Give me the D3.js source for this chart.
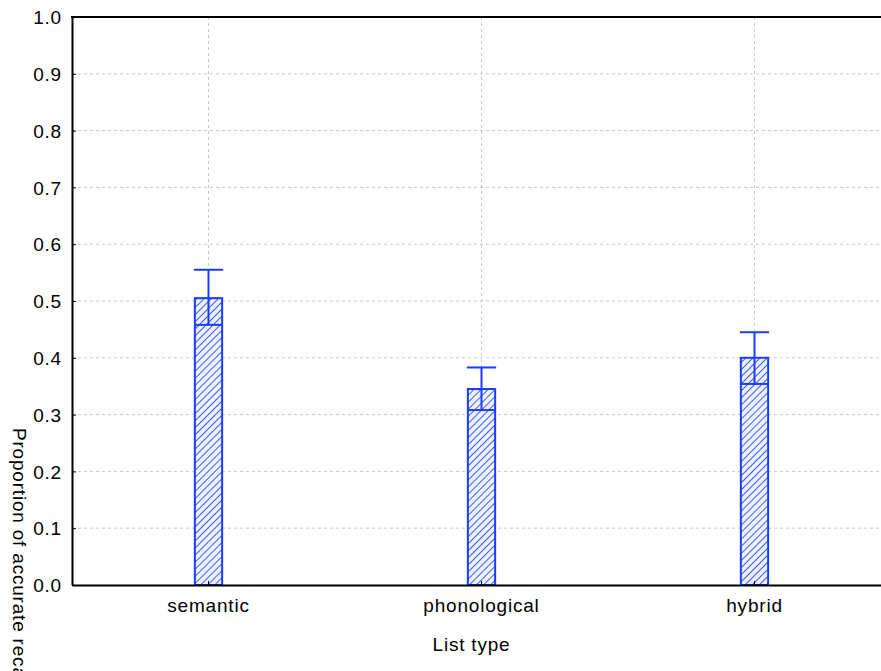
<!DOCTYPE html>
<html><head><meta charset="utf-8">
<script src="https://cdn.jsdelivr.net/npm/d3@7"></script>
<style>
html,body{margin:0;padding:0;background:#fff;overflow:hidden}
text{font-family:"Liberation Sans",Arial,sans-serif;font-size:19px;letter-spacing:0.8px;fill:#000}
</style></head><body>
<svg id="c" width="881" height="671"></svg>
<script>
const categories = ["semantic", "phonological", "hybrid"];
const means = [0.505, 0.345, 0.400];
const upperCI = [0.555, 0.383, 0.445];
const lowerCI = [0.458, 0.308, 0.354];
const yTicks = [0.0, 0.1, 0.2, 0.3, 0.4, 0.5, 0.6, 0.7, 0.8, 0.9, 1.0];

const svg = d3.select("#c");
const L = 72, T = 17, R = 891, B = 585;
const blue = "#1a3cff";

const x = d3.scaleBand().domain(categories).range([L, R]);
const y = d3.scaleLinear().domain([0, 1]).range([B, T]);

const defs = svg.append("defs");
const pat = defs.append("pattern").attr("id", "hatch").attr("patternUnits", "userSpaceOnUse")
  .attr("width", 5).attr("height", 5).attr("patternTransform", "rotate(45)");
pat.append("rect").attr("width", 5).attr("height", 5).attr("fill", "#eef1ff");
pat.append("line").attr("x1", 0).attr("y1", 0).attr("x2", 0).attr("y2", 5)
  .attr("stroke", "#3d5ef5").attr("stroke-width", 2);

// grid
svg.append("g").selectAll("line").data(yTicks.filter(d => d > 0 && d < 1)).join("line")
  .attr("x1", L).attr("x2", R).attr("y1", d => y(d)).attr("y2", d => y(d))
  .attr("stroke", "#c8c8c8").attr("stroke-dasharray", "3,3").attr("stroke-width", 1);
svg.append("g").selectAll("line").data(categories).join("line")
  .attr("x1", d => x(d) + x.bandwidth() / 2).attr("x2", d => x(d) + x.bandwidth() / 2)
  .attr("y1", T).attr("y2", B)
  .attr("stroke", "#c8c8c8").attr("stroke-dasharray", "3,3").attr("stroke-width", 1);

// bars
const bw = x.bandwidth() * 0.1;
const g = svg.append("g");
categories.forEach((c, i) => {
  const cx = x(c) + x.bandwidth() / 2;
  g.append("rect").attr("x", cx - bw / 2).attr("y", y(means[i]))
    .attr("width", bw).attr("height", y(0) - y(means[i]))
    .attr("fill", "url(#hatch)").attr("stroke", blue).attr("stroke-width", 2);
  g.append("line").attr("x1", cx).attr("x2", cx).attr("y1", y(upperCI[i])).attr("y2", y(lowerCI[i]))
    .attr("stroke", blue).attr("stroke-width", 2);
  g.append("line").attr("x1", cx - bw / 2 - 1).attr("x2", cx + bw / 2 + 1)
    .attr("y1", y(upperCI[i])).attr("y2", y(upperCI[i]))
    .attr("stroke", blue).attr("stroke-width", 2);
  g.append("line").attr("x1", cx - bw / 2).attr("x2", cx + bw / 2)
    .attr("y1", y(lowerCI[i])).attr("y2", y(lowerCI[i]))
    .attr("stroke", blue).attr("stroke-width", 2);
});

// axes
const yAxis = d3.axisLeft(y).tickValues(yTicks).tickFormat(d3.format(".1f")).tickSizeInner(-4).tickSizeOuter(0).tickPadding(10);
const ya = svg.append("g").attr("transform", `translate(${L},0)`).call(yAxis);
ya.select(".domain").attr("stroke", "#000").attr("stroke-width", 2);
ya.selectAll(".tick line").attr("stroke", "#000");
ya.selectAll("text").style("font-family", "Liberation Sans, Arial, sans-serif").style("font-size", "19px").attr("dy", "0.35em");

const xAxis = d3.axisBottom(x).tickSizeInner(-4).tickSizeOuter(0).tickPadding(14);
const xa = svg.append("g").attr("transform", `translate(0,${B})`).call(xAxis);
xa.select(".domain").attr("stroke", "#000").attr("stroke-width", 2);
xa.selectAll(".tick line").attr("stroke", "#000");
xa.selectAll("text").style("font-family", "Liberation Sans, Arial, sans-serif").style("font-size", "19px");

svg.append("line").attr("x1", L - 1).attr("x2", R).attr("y1", T).attr("y2", T).attr("stroke", "#000").attr("stroke-width", 2);

svg.append("text").attr("x", (L + R) / 2 - 10).attr("y", 651).attr("text-anchor", "middle").text("List type");
svg.append("text").attr("transform", "translate(13,428) rotate(90)").attr("text-anchor", "start").text("Proportion of accurate recall");
</script>
</body></html>
